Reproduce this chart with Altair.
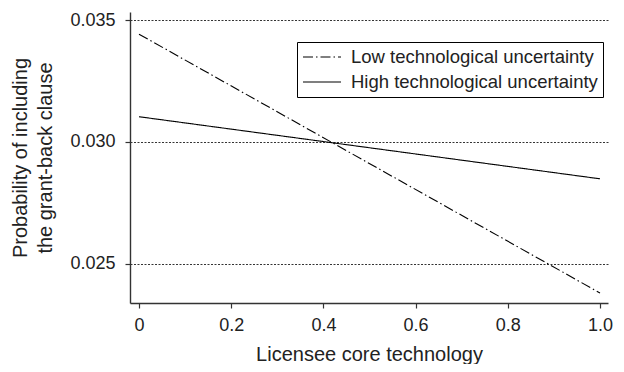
import altair as alt
import pandas as pd

# Data
x_vals = [0.0, 1.0]
low_vals = [0.03442, 0.02379]
high_vals = [0.03103, 0.02848]
series_names = ["Low technological uncertainty", "High technological uncertainty"]
x_ticks = [0, 0.2, 0.4, 0.6, 0.8, 1.0]
y_ticks = [0.025, 0.030, 0.035]

rows = []
for xv, lv in zip(x_vals, low_vals):
    rows.append({"x": xv, "y": lv, "series": series_names[0]})
for xv, hv in zip(x_vals, high_vals):
    rows.append({"x": xv, "y": hv, "series": series_names[1]})
df = pd.DataFrame(rows)

FONT = "Liberation Sans"

chart = alt.Chart(df).mark_line(color="black", strokeWidth=1.1).encode(
    x=alt.X("x:Q",
            scale=alt.Scale(domain=[-0.01952, 1.01736], nice=False, zero=False),
            axis=alt.Axis(values=x_ticks, title="Licensee core technology",
                          labelExpr="datum.value == 0 ? '0' : format(datum.value, '.1f')",
                          grid=False, tickSize=5, labelPadding=8, titlePadding=10)),
    y=alt.Y("y:Q",
            scale=alt.Scale(domain=[0.02338, 0.03533], nice=False, zero=False),
            axis=alt.Axis(values=y_ticks, format=".3f",
                          title=["Probability of including", "the grant-back clause"],
                          grid=True, gridDash=[2, 1.5], gridColor="black", gridOpacity=1,
                          gridWidth=0.8, tickSize=5, labelPadding=10, titlePadding=14)),
    strokeDash=alt.StrokeDash("series:N",
        scale=alt.Scale(domain=series_names, range=[[10, 3, 1.5, 3], [1, 0]]),
        legend=alt.Legend(title=None, orient="none", legendX=167, legendY=30,
                          symbolType="stroke", symbolSize=1444, symbolStrokeWidth=1.1,
                          symbolStrokeColor="black", labelFont=FONT, labelFontSize=18.5,
                          labelColor="#222", strokeColor="black", fillColor="white",
                          padding=5, rowPadding=5, clipHeight=20, labelOffset=9,
                          labelLimit=400, cornerRadius=0)),
    order="x:Q",
).properties(
    width=478, height=291,
    autosize=alt.AutoSizeParams(type="none"),
    padding={"left": 122, "top": 4, "right": 8, "bottom": 61},
).configure_view(stroke=None).configure_axis(
    labelFont=FONT, titleFont=FONT, labelFontSize=18, titleFontSize=20,
    titleFontWeight="normal", labelColor="#222", titleColor="#222",
    domainColor="#333", domainWidth=1.4, tickColor="#333", tickWidth=1.2,
    titleLineHeight=25,
)

chart.save("out.html", embed_options={"renderer": "svg", "actions": False})
